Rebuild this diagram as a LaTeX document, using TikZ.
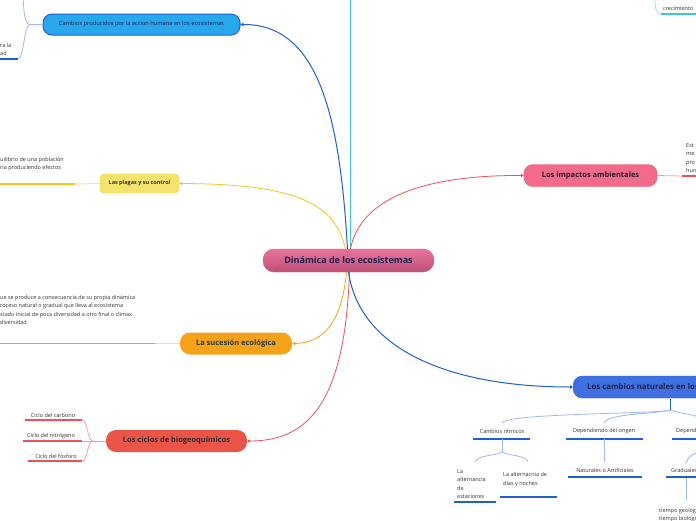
\documentclass[tikz,border=0pt]{standalone}
\usepackage{fontspec}
\setmainfont{Open Sans}
\usetikzlibrary{arrows.meta}
\definecolor{navy}{HTML}{1F1B4D}
\definecolor{cblue}{HTML}{1F5FD6}
\definecolor{lblue}{HTML}{9DB8F5}
\definecolor{teal}{HTML}{3CC8D8}
\definecolor{lteal}{HTML}{9FE3EA}
\definecolor{cred}{HTML}{F0505A}
\definecolor{lred}{HTML}{F6A0A0}
\definecolor{cyel}{HTML}{F2C81D}
\definecolor{lyel}{HTML}{F8E38A}
\definecolor{corange}{HTML}{F7A21B}
\definecolor{lorange}{HTML}{FAD7A0}
\definecolor{txt}{HTML}{333333}
\definecolor{ctop}{HTML}{E8739B}
\definecolor{cbot}{HTML}{BE5179}
\definecolor{cdraw}{HTML}{C95C82}
\definecolor{humfill}{HTML}{27A7EC}
\definecolor{impfill}{HTML}{F26B8D}
\definecolor{imptext}{HTML}{2A1A2A}
\definecolor{plagfill}{HTML}{F5E36E}
\definecolor{plagdraw}{HTML}{EFCF3A}
\definecolor{plagtext}{HTML}{3A3520}
\definecolor{suctext}{HTML}{1E3A33}
\definecolor{cicfill}{HTML}{EB5449}
\definecolor{cictext}{HTML}{2A2A2A}
\definecolor{natfill}{HTML}{3F6FE0}
\definecolor{natdraw}{HTML}{2F5FD6}
\definecolor{nattext}{HTML}{1A2450}
\tikzset{
  topic/.style={rounded corners=9pt, inner sep=0pt, font=\bfseries\fontsize{7.5}{9}\selectfont},
  sub/.style={inner sep=0pt, font=\fontsize{5.5}{8.5}\selectfont, text=txt, align=left},
  tip/.style={-{Triangle[length=3pt,width=3.5pt]}},
  uline/.style={line width=1.2pt},
}
\begin{document}
\begin{tikzpicture}[x=1pt,y=-1pt]
\clip (0,0) rectangle (696,520);
\fill[white] (0,0) rectangle (696,520);

% central
\node[topic, top color=ctop, bottom color=cbot, draw=cdraw,
  minimum width=171pt, minimum height=23pt, rounded corners=11pt,
  font=\bfseries\fontsize{9}{11}\selectfont, text=navy] (c) at (348.5,260.5) {Dinámica de los ecosistemas};

% main topics
\node[topic, fill=humfill, draw=cblue, line width=1pt, minimum width=197pt, minimum height=21pt,
  font=\fontsize{5.7}{7}\selectfont, text=navy] (hum) at (141.5,24.5) {Cambios producidos por la accion humana en los ecosistemas};
\node[topic, fill=impfill, draw=cred, minimum width=133pt, minimum height=22pt, text=imptext] (imp) at (590.5,175.5) {Los impactos ambientales};
\node[topic, fill=plagfill, draw=plagdraw, rounded corners=4pt, minimum width=79pt, minimum height=19pt,
  font=\fontsize{5.5}{7}\selectfont\bfseries, text=plagtext] (plag) at (139.5,183.5) {Las plagas y su control};
\node[topic, fill=corange, minimum width=112pt, minimum height=22pt, rounded corners=10pt, text=suctext] (suc) at (236,343.5) {La sucesión ecológica};
\node[topic, fill=cicfill, minimum width=141pt, minimum height=22pt, rounded corners=10pt, text=cictext] (cic) at (176.5,441) {Los ciclos de biogeoquímicos};
\node[topic, fill=natfill, draw=natdraw, minimum height=22pt, anchor=west, inner xsep=14pt,
  minimum width=200pt, align=left, text=nattext, font=\bfseries\fontsize{7.8}{9}\selectfont] (nat) at (573,387) {Los cambios naturales en los ecosistemas\hspace{30pt}};

% connectors from center
\draw[teal, line width=1pt] ([xshift=1.5pt]c.north) -- (350,0);
\draw[cblue, line width=1pt, tip] ([xshift=-1pt]c.north) .. controls (340,120) and (320,24) .. (hum.east);
\draw[cyel, line width=0.8pt, tip] ([xshift=-3pt]c.north) .. controls (335,205) and (300,184) .. (plag.east);
\draw[cred, line width=0.8pt, tip] ([xshift=2pt]c.north) .. controls (360,200) and (420,175) .. (imp.west);
\draw[corange, line width=0.8pt, tip] ([xshift=-2pt]c.south) .. controls (342,320) and (325,343) .. (suc.east);
\draw[cred, line width=0.8pt, tip] ([xshift=1pt]c.south) .. controls (345,400) and (310,441) .. (cic.east);
\draw[cblue, line width=1pt, tip] ([xshift=0pt]c.south) .. controls (360,350) and (450,387) .. (nat.west);

% --- top right (teal) ---
\coordinate (tu) at (661,14);
\draw[lteal, line width=0.8pt] (655,-2) .. controls (655,8) and (656,14) .. (tu);
\draw[teal, uline] (tu) -- (700,14);
\node[sub, anchor=south west] (ttxt) at (663,11) {crecimiento};

% --- Cambios producidos (left) ---
\coordinate (hj) at (30,24.5);
\coordinate (hu1) at (18,59);
\draw[lblue, line width=0.8pt] (hum.west) -- (hj) .. controls (24,24) and (24,10) .. (23,-2);
\draw[lblue, line width=0.8pt] (hj) .. controls (24,25) and (24,58) .. (hu1);
\draw[cblue, uline] (hu1) -- (0,59);
\node[sub, anchor=south west] (humtxt) at (0,56) {ra la\\ad};

% --- plagas ---
\coordinate (pl) at (75,184);
\draw[lyel, line width=1pt] (plag.west) -- (pl);
\draw[cyel, line width=1.3pt] (pl) -- (0,184);
\node[sub, anchor=west] (plagtxt) at (0,164) {uilibrio de una población\\ria produciendo efectos};

% --- sucesion ---
\coordinate (sl) at (155,343.5);
\draw[lorange, line width=1pt] (suc.west) -- (sl);
\draw[corange, line width=1.3pt] (sl) -- (0,343.5);
\node[sub, anchor=west] (suctxt) at (0,310) {ue se produce a consecuencia de su propia dinámica\\roceso natural o gradual que lleva al ecosistema\\stado inicial de poca diversidad a otro final o climax\\diversidad.};

% --- impactos ---
\coordinate (il) at (682,176);
\draw[lred, line width=0.8pt] (imp.east) -- (il);
\draw[cred, uline] (il) -- (700,176);
\node[sub, anchor=south west] (imptxt) at (686,173) {Est\\me\\pro\\hun};

% --- ciclos ---
\coordinate (cj) at (93,441);
\node[sub, anchor=south] (c1) at (53,418) {Ciclo del carbono};
\node[sub, anchor=south] (c2) at (51,439) {Ciclo del nitrógeno};
\node[sub, anchor=south] (c3) at (56,459) {Ciclo del fósforo};
\draw[cred, uline] (25,420) -- (82,420);
\draw[cred, uline] (23,441) -- (82,441);
\draw[cred, uline] (28,461) -- (82,461);
\draw[lred, line width=0.8pt] (cic.west) -- (cj);
\draw[lred, line width=0.8pt] (cj) .. controls (87,441) and (88,420) .. (82,420);
\draw[lred, line width=0.8pt] (cj) -- (82,441);
\draw[lred, line width=0.8pt] (cj) .. controls (87,441) and (88,461) .. (82,461);

% --- cambios naturales ---
\coordinate (nj) at (670,410);
\draw[cblue, line width=0.8pt] (670,398.5) -- (nj);
\node[sub, anchor=south] (r1) at (502,434) {Cambios rítmicos};
\node[sub, anchor=south] (r2) at (604,434) {Dependiendo del origen};
\node[sub, anchor=south west] (r3) at (676,434) {Dependiendo};
\draw[cblue, uline] (473,439) -- (530,439);
\draw[cblue, uline] (566,439) -- (643,439);
\draw[cblue, uline] (672,439) -- (700,439);
\draw[lblue, line width=0.8pt] (nj) .. controls (660,414) and (505,413) .. (502,423);
\draw[lblue, line width=0.8pt] (nj) .. controls (660,414) and (607,413) .. (604,423);
\draw[lblue, line width=0.8pt] (nj) .. controls (680,414) and (700,414) .. (710,423);

% ritmicos children
\coordinate (rj) at (502,452);
\draw[lblue, line width=0.8pt] (502,439) -- (rj);
\draw[lblue, line width=0.8pt] (rj) .. controls (495,456) and (477,455) .. (475,462);
\draw[lblue, line width=0.8pt] (rj) .. controls (509,456) and (526,455) .. (528,462);
\node[sub, anchor=south west] (e1) at (457,499) {La\\alternancia\\de\\estaciones};
\draw[cblue, uline] (454,502) -- (496,502);
\node[sub, anchor=south west] (e2) at (503,487) {La alternacnia de\\días y noches};
\draw[cblue, uline] (500,497) -- (557,497);

% origen child
\draw[lblue, line width=0.8pt] (604,439) -- (604,462);
\node[sub, anchor=south] (o1) at (605,473) {Naturales o Artificiales};
\draw[cblue, uline] (568,477) -- (642,477);

% graduales
\node[sub, anchor=south west] (g1) at (671,473) {Graduales};
\draw[cblue, uline] (666,477) -- (700,477);
\draw[lblue, line width=0.8pt] (686,463) .. controls (688,456) and (694,453) .. (700,452);
\draw[lblue, line width=0.8pt] (686,478) -- (686,500);
\node[sub, anchor=north west] (g2) at (659,508) {tiempo geológico\\tiempo biológico};
\end{tikzpicture}
\end{document}
